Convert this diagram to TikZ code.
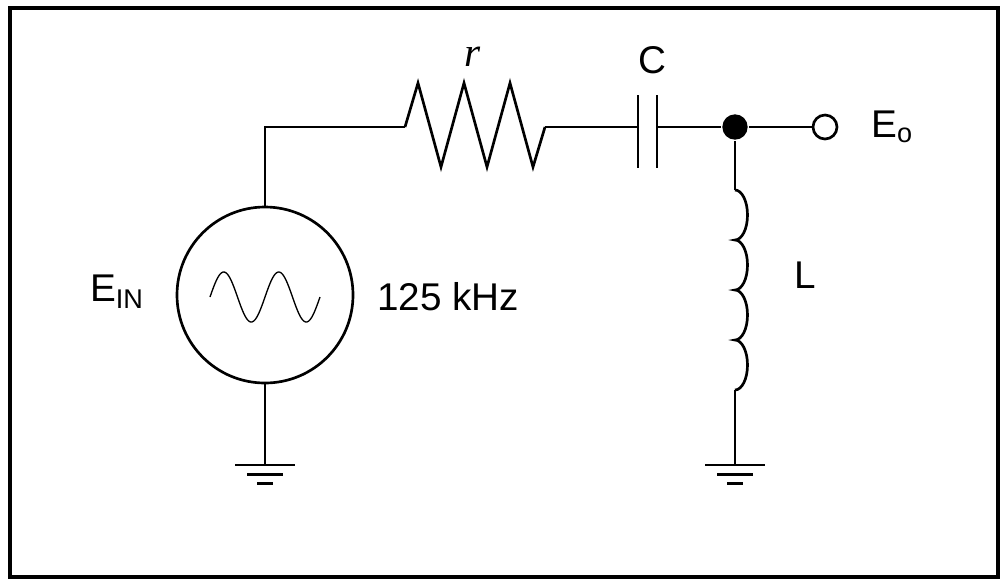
\documentclass[tikz,border=0pt]{standalone}
\usepackage{fontspec}
\setmainfont{Liberation Sans}
\newfontfamily\serifr{Liberation Serif}
\begin{document}
\begin{tikzpicture}[x=0.75pt,y=-0.75pt,line width=2pt,
  lbl/.style={inner sep=0pt,font=\fontsize{29}{32}\selectfont}]
\useasboundingbox (0,0) rectangle (1006,583);
\draw[line width=3pt] (10,8) rectangle (998,577);
% source
\node[circle,draw,minimum size=132pt,inner sep=0pt,line width=2pt] (src) at (265,295) {};
\draw[line width=1pt] plot[domain=0:720,samples=120] ({210+\x/720*110},{297-25*sin(\x+0)});
\coordinate (tl) at (265,127);
\coordinate (r1) at (405,127);
\coordinate (r2) at (545,127);
\coordinate (c1) at (638,127);
\coordinate (c2) at (657,127);
\node[circle,fill,minimum size=19pt,inner sep=0pt] (dot) at (735,127) {};
\node[circle,draw,fill=white,minimum size=18pt,inner sep=0pt] (out) at (825,127) {};
\draw (src.north) -- (tl) -- (r1);
\draw (r1) -- (418,83) -- (441,167) -- (464,83) -- (487,167) -- (510,83) -- (533,167) -- (r2);
\draw (r2) -- (c1);
\draw (638,95) -- (638,168) (657,95) -- (657,168);
\draw (c2) -- (dot) -- (out);
% inductor
\coordinate (l1) at (735,190);
\coordinate (l2) at (735,390);
\draw (dot) -- (l1);
\draw (l1) arc (-90:90:12.5 and 25) arc (-90:90:12.5 and 25) arc (-90:90:12.5 and 25) arc (-90:90:12.5 and 25);
\coordinate (g2) at (735,465);
\coordinate (g1) at (265,465);
\draw (l2) -- (g2);
\draw (src.south) -- (g1);
\foreach \g in {g1,g2}{
  \draw ([xshift=-22.5pt]\g) -- ([xshift=22.5pt]\g);
  \draw ([xshift=-13.5pt,yshift=-7pt]\g) -- ([xshift=13.5pt,yshift=-7pt]\g);
  \draw ([xshift=-6pt,yshift=-14pt]\g) -- ([xshift=6pt,yshift=-14pt]\g);
}
% labels
\node[lbl,font=\fontsize{31}{34}\selectfont\serifr\itshape] (lr) at (473,57) {r};
\node[lbl] (lc) at (652,60) {C};
\node[lbl,anchor=west] (lo) at (870,127) {E\textsubscript{o}};
\node[lbl] (ll) at (805,275) {L};
\node[lbl,anchor=east] (lin) at (145,292) {E\textsubscript{IN}};
\node[lbl,anchor=west] (lf) at (376,297) {125 kHz};
\end{tikzpicture}
\end{document}
